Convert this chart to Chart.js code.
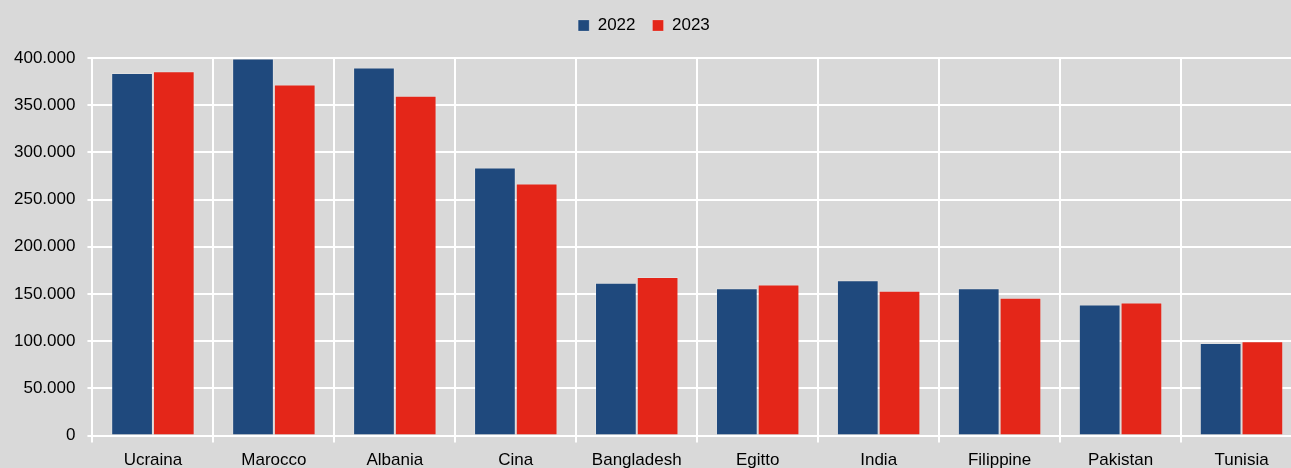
<!DOCTYPE html>
<html>
<head>
<meta charset="utf-8">
<script src="https://cdn.jsdelivr.net/npm/chart.js@4.4.0/dist/chart.umd.min.js"></script>
<style>
	html, body { margin: 0; padding: 0; background: #d9d9d9; overflow: hidden; }
	#wrap { width: 1302px; height: 479px; }
</style>
</head>
<body>
<div id="wrap"><canvas id="myChart"></canvas></div>
<script>
// dati
const paesi = ['Ucraina', 'Marocco', 'Albania', 'Cina', 'Bangladesh', 'Egitto', 'India', 'Filippine', 'Pakistan', 'Tunisia'];
const valori2022 = [384000, 399500, 390000, 284000, 162000, 156000, 164500, 156000, 139000, 98000];
const valori2023 = [386000, 372000, 360000, 267000, 168000, 160000, 153500, 146000, 141000, 100000];

const font = "'Liberation Sans', Arial, sans-serif";

function formatta(v) {
	return String(v).replace(/\B(?=(\d{3})+(?!\d))/g, '.');
}

// spazio extra sotto la legenda e legenda spostata un po' a sinistra
const spazioLegenda = {
	id: 'spazioLegenda',
	beforeInit(chart) {
		const fit = chart.legend.fit;
		chart.legend.fit = function () {
			fit.bind(chart.legend)();
			this.height += 14;
		};
	},
	afterLayout(chart) {
		chart.legend.left -= 8;
		chart.legend.right -= 8;
	}
};

const ctx = document.getElementById('myChart').getContext('2d');
const chart = new Chart(ctx, {
	type: 'bar',
	data: {
		labels: paesi,
		datasets: [
			{ label: '2022', data: valori2022, backgroundColor: '#1f497d', borderColor: 'rgba(255,255,255,0.2)', borderWidth: 1 },
			{ label: '2023', data: valori2023, backgroundColor: '#e42619', borderColor: 'rgba(255,255,255,0.2)', borderWidth: 1 }
		]
	},
	options: {
		responsive: true,
		maintainAspectRatio: false,
		animation: false,
		datasets: { bar: { categoryPercentage: 0.69, barPercentage: 1.0 } },
		layout: { padding: { left: 2, top: 0, right: 0, bottom: 0 } },
		plugins: {
			legend: {
				position: 'top',
				labels: { boxWidth: 11, boxHeight: 11, color: '#000', font: { family: font, size: 17 }, padding: 17 }
			},
			tooltip: { enabled: false }
		},
		scales: {
			x: {
				grid: { color: '#ffffff', lineWidth: 2, offset: true, tickLength: 7, drawTicks: true },
				border: { color: '#ffffff', width: 2 },
				ticks: { color: '#000', font: { family: font, size: 17 }, padding: 8, maxRotation: 0 }
			},
			y: {
				min: 0,
				max: 400000,
				grid: { color: '#ffffff', lineWidth: 2, tickLength: 5 },
				border: { color: '#ffffff', width: 2 },
				ticks: { stepSize: 50000, color: '#000', font: { family: font, size: 17 }, padding: 12, callback: v => formatta(v) }
			}
		}
	},
	plugins: [spazioLegenda]
});
</script>
</body>
</html>
